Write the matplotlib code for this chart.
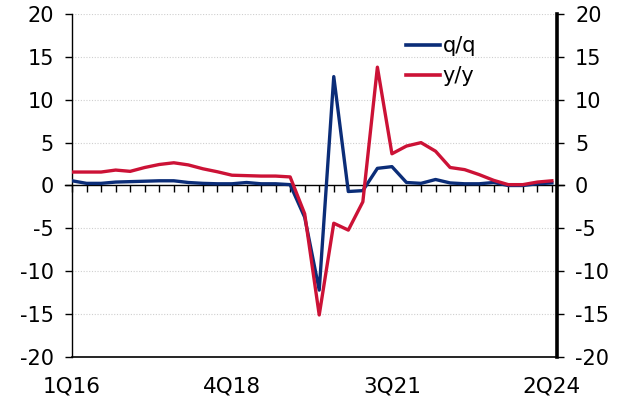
import matplotlib
matplotlib.use("Agg")
import matplotlib.pyplot as plt
import numpy as np

# Data (quarterly, 1Q16 .. 2Q24)
years = list(range(16, 25))
quarters = [f"{q}Q{y}" for y in years for q in range(1, 5)][:34]
qq = [0.55, 0.25, 0.25, 0.4, 0.45, 0.5, 0.55, 0.55, 0.35, 0.25, 0.2, 0.2,
      0.35, 0.2, 0.2, 0.1, -3.7, -12.2, 12.7, -0.7, -0.6, 2.0, 2.2, 0.35,
      0.25, 0.7, 0.3, 0.2, 0.2, 0.35, 0.0, 0.0, 0.2, 0.3]
yy = [1.57, 1.57, 1.57, 1.8, 1.65, 2.1, 2.45, 2.65, 2.4, 1.95, 1.6, 1.2,
      1.15, 1.1, 1.1, 1.0, -3.3, -15.1, -4.4, -5.2, -1.9, 13.8, 3.7, 4.6,
      5.0, 4.0, 2.1, 1.85, 1.27, 0.6, 0.1, 0.1, 0.4, 0.55]
tick_labels = ["1Q16", "4Q18", "3Q21", "2Q24"]
y_ticks = [-20, -15, -10, -5, 0, 5, 10, 15, 20]

BLUE = "#0b2d78"
RED = "#cc1236"

plt.rcParams["font.family"] = ["DejaVu Sans"]
fig = plt.figure(figsize=(6.24, 4.0), dpi=100)
ax = fig.add_axes([0.1154, 0.1075, 0.7772, 0.8575])

x = np.arange(len(quarters))
for yv in [-15, -10, -5, 5, 10, 15, 20]:
    ax.axhline(yv, color="#cfcfcf", lw=0.8, ls=(0, (1, 1.5)), zorder=0)

ax.plot(x, qq, color=BLUE, lw=2.4, label="q/q", zorder=3, solid_joinstyle="round")
ax.plot(x, yy, color=RED, lw=2.4, label="y/y", zorder=3, solid_joinstyle="round")

ax.set_xlim(0, len(quarters) - 1 + 0.35)
ax.set_ylim(-20, 20)

# zero line with quarterly ticks
ax.axhline(0, color="black", lw=1.0, xmin=-0.015, xmax=1.015, clip_on=False, zorder=2)
sec = ax.secondary_xaxis(0.5)
sec.set_xticks(x)
sec.tick_params(axis="x", direction="out", length=5, width=1.0, labelbottom=False, labeltop=False, top=False, bottom=True)
sec.spines["bottom"].set_visible(False)
sec.spines["top"].set_visible(False)

# bottom labels
lab_pos = [quarters.index(t) for t in tick_labels]
ax.set_xticks(lab_pos)
ax.set_xticklabels(tick_labels, fontsize=15.5)
ax.tick_params(axis="x", length=0, pad=14)

ax.set_yticks(y_ticks)
ax.set_yticklabels([str(v) for v in y_ticks], fontsize=15)
ax.tick_params(axis="y", direction="out", length=5, width=1.0, pad=8)

ax.spines["top"].set_visible(False)
ax.spines["right"].set_visible(False)
ax.spines["left"].set_linewidth(1.0)
ax.spines["bottom"].set_linewidth(1.2)

ax2 = ax.twinx()
ax2.set_ylim(-20, 20)
ax2.set_yticks(y_ticks)
ax2.set_yticklabels([str(v) for v in y_ticks], fontsize=15)
ax2.tick_params(axis="y", direction="out", length=5, width=1.0, pad=8)
for s in ["top", "left", "bottom"]:
    ax2.spines[s].set_visible(False)
ax2.spines["right"].set_linewidth(2.6)

leg = ax.legend(loc="upper left", bbox_to_anchor=(0.672, 0.96), frameon=False,
                fontsize=15, handlelength=1.6, handletextpad=0.15, labelspacing=0.5,
                borderaxespad=0)
for h in leg.get_lines():
    h.set_linewidth(2.6)

fig.savefig("out.png", dpi=100)
